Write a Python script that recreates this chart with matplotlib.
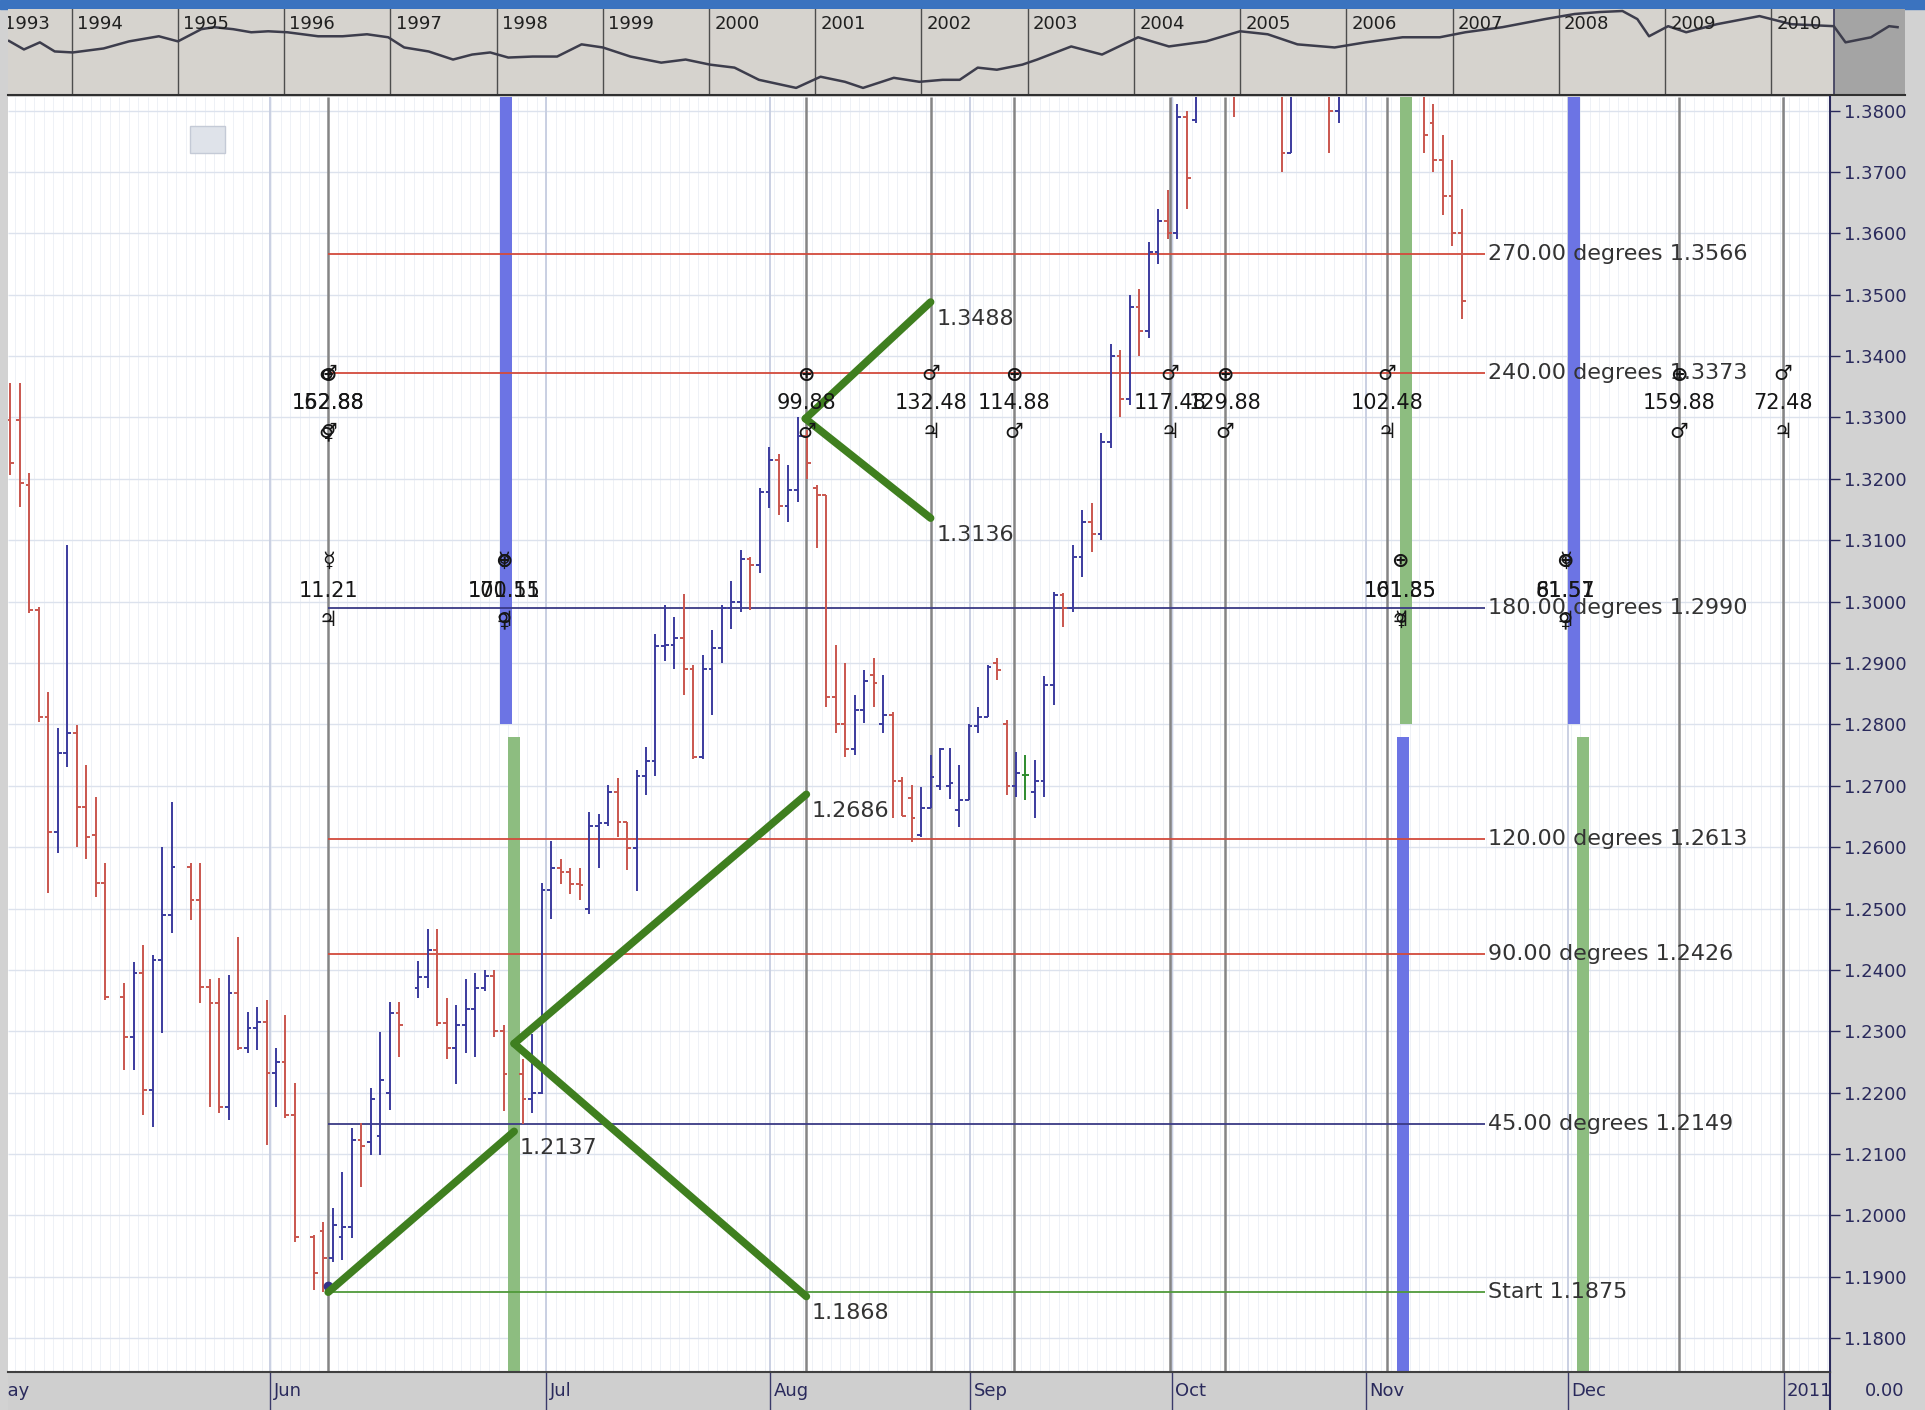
import numpy as np
import matplotlib.pyplot as plt
from matplotlib.collections import LineCollection
from matplotlib.patches import Rectangle
import matplotlib.transforms as mtransforms

plt.rcParams['font.family'] = ['DejaVu Sans']

# daily EUR/USD bars, one entry per chart slot (None = empty slot)
opens = [
    1.3296, 1.3296, 1.3190, 1.2986, 1.2812, 1.2625, 1.2753, 1.2786, 1.2666, 1.2620,
    1.2541, None, 1.2356, 1.2290, 1.2395, 1.2204, 1.2416, 1.2490, None, 1.2568,
    1.2514, 1.2372, 1.2346, 1.2176, 1.2362, 1.2273, 1.2306, 1.2315, 1.2232, 1.2250,
    1.2163, None, 1.1965, 1.1975, 1.1930, 1.1965, 1.1981, 1.2123, 1.2120, 1.2130,
    1.2200, 1.2330, None, 1.2370, 1.2389, 1.2432, 1.2314, 1.2273, 1.2311, 1.2336,
    1.2370, 1.2390, 1.2300, None, 1.2230, 1.2190, 1.2200, 1.2531, 1.2566, 1.2560,
    1.2540, 1.2500, 1.2635, 1.2640, 1.2690, 1.2641, 1.2598, 1.2716, 1.2741, 1.2928,
    1.2930, 1.2940, 1.2890, 1.2747, 1.2891, 1.2925, 1.2990, 1.3000, 1.3070, 1.3060,
    1.3179, 1.3230, 1.3155, 1.3182, 1.3270, 1.3185, 1.3174, 1.2845, 1.2800, 1.2760,
    1.2823, 1.2880, 1.2800, 1.2815, 1.2707, 1.2680, 1.2620, 1.2664, 1.2700, 1.2700,
    1.2660, 1.2677, 1.2797, 1.2812, 1.2900, 1.2800, 1.2700, 1.2718, 1.2690, 1.2707,
    1.2864, 1.3011, 1.2990, 1.3073, 1.3130, 1.3110, 1.3260, 1.3400, 1.3330, 1.3480,
    1.3440, 1.3570, 1.3620, 1.3600, 1.3790, 1.3785, 1.3900, 1.3960, 1.4000, 1.3950,
    1.3860, 1.3980, 1.4100, 1.4020, 1.3920, 1.3730, 1.3940, 1.3960, 1.3930, 1.3880,
    1.3800, 1.3920, 1.3950, 1.4020, 1.4120, 1.4230, 1.4130, 1.4000, 1.3920, 1.3850,
    1.3780, 1.3720, 1.3660, 1.3600]
highs = [
    1.3356, 1.3356, 1.3209, 1.2991, 1.2853, 1.2794, 1.3092, 1.2799, 1.2734, 1.2682,
    1.2574, None, 1.2378, 1.2413, 1.2440, 1.2424, 1.2600, 1.2673, None, 1.2574,
    1.2574, 1.2385, 1.2387, 1.2392, 1.2454, 1.2331, 1.2340, 1.2351, 1.2273, 1.2327,
    1.2216, None, 1.1968, 1.1989, 1.2012, 1.2071, 1.2143, 1.2151, 1.2208, 1.2299,
    1.2348, 1.2348, None, 1.2414, 1.2467, 1.2467, 1.2354, 1.2343, 1.2386, 1.2395,
    1.2400, 1.2400, 1.2310, None, 1.2255, 1.2295, 1.2541, 1.2610, 1.2580, 1.2566,
    1.2566, 1.2657, 1.2654, 1.2701, 1.2713, 1.2641, 1.2726, 1.2763, 1.2947, 1.2994,
    1.2975, 1.3012, 1.2897, 1.2913, 1.2954, 1.2994, 1.3034, 1.3084, 1.3073, 1.3185,
    1.3252, 1.3240, 1.3222, 1.3300, 1.3279, 1.3190, 1.3174, 1.2929, 1.2900, 1.2848,
    1.2888, 1.2908, 1.2880, 1.2820, 1.2715, 1.2701, 1.2698, 1.2750, 1.2761, 1.2761,
    1.2734, 1.2800, 1.2829, 1.2897, 1.2908, 1.2807, 1.2755, 1.2750, 1.2742, 1.2878,
    1.3016, 1.3014, 1.3092, 1.3150, 1.3160, 1.3275, 1.3420, 1.3410, 1.3500, 1.3510,
    1.3585, 1.3640, 1.3670, 1.3810, 1.3800, 1.3920, 1.3990, 1.4060, 1.4030, 1.3980,
    1.4000, 1.4120, 1.4160, 1.4040, 1.3950, 1.3960, 1.3990, 1.4000, 1.3960, 1.3900,
    1.3950, 1.3990, 1.4050, 1.4140, 1.4250, 1.4280, 1.4140, 1.4030, 1.3960, 1.3880,
    1.3810, 1.3760, 1.3720, 1.3640]
lows = [
    1.3206, 1.3154, 1.2981, 1.2804, 1.2525, 1.2590, 1.2730, 1.2600, 1.2580, 1.2518,
    1.2351, None, 1.2237, 1.2237, 1.2163, 1.2144, 1.2297, 1.2460, None, 1.2481,
    1.2346, 1.2176, 1.2167, 1.2156, 1.2270, 1.2264, 1.2270, 1.2115, 1.2176, 1.2158,
    1.1957, None, 1.1879, 1.1876, 1.1924, 1.1927, 1.1963, 1.2046, 1.2098, 1.2098,
    1.2171, 1.2258, None, 1.2354, 1.2370, 1.2308, 1.2255, 1.2214, 1.2265, 1.2258,
    1.2365, 1.2290, 1.2170, None, 1.2149, 1.2167, 1.2198, 1.2483, 1.2540, 1.2523,
    1.2514, 1.2491, 1.2566, 1.2635, 1.2616, 1.2563, 1.2529, 1.2685, 1.2716, 1.2903,
    1.2891, 1.2848, 1.2744, 1.2744, 1.2816, 1.2900, 1.2956, 1.2983, 1.2986, 1.3046,
    1.3152, 1.3141, 1.3130, 1.3163, 1.3200, 1.3087, 1.2829, 1.2786, 1.2747, 1.2750,
    1.2802, 1.2829, 1.2786, 1.2647, 1.2650, 1.2609, 1.2617, 1.2664, 1.2693, 1.2678,
    1.2633, 1.2677, 1.2786, 1.2812, 1.2872, 1.2685, 1.2682, 1.2677, 1.2647, 1.2682,
    1.2831, 1.2959, 1.2983, 1.3040, 1.3080, 1.3100, 1.3250, 1.3300, 1.3320, 1.3400,
    1.3430, 1.3550, 1.3590, 1.3590, 1.3640, 1.3780, 1.3850, 1.3930, 1.3900, 1.3790,
    1.3840, 1.3960, 1.4000, 1.3880, 1.3700, 1.3730, 1.3880, 1.3900, 1.3850, 1.3730,
    1.3780, 1.3880, 1.3900, 1.4000, 1.4100, 1.4100, 1.3960, 1.3890, 1.3830, 1.3730,
    1.3700, 1.3630, 1.3580, 1.3460]
closes = [
    1.3226, 1.3193, 1.2986, 1.2812, 1.2625, 1.2753, 1.2786, 1.2666, 1.2617, 1.2541,
    1.2356, None, 1.2290, 1.2395, 1.2204, 1.2416, 1.2490, 1.2568, None, 1.2514,
    1.2372, 1.2346, 1.2176, 1.2362, 1.2273, 1.2306, 1.2315, 1.2232, 1.2250, 1.2163,
    1.1965, None, 1.1906, 1.1930, 1.1985, 1.1981, 1.2123, 1.2113, 1.2190, 1.2221,
    1.2330, 1.2311, None, 1.2389, 1.2432, 1.2314, 1.2273, 1.2311, 1.2336, 1.2370,
    1.2390, 1.2300, 1.2230, None, 1.2190, 1.2200, 1.2531, 1.2566, 1.2560, 1.2540,
    1.2538, 1.2635, 1.2640, 1.2690, 1.2641, 1.2598, 1.2716, 1.2741, 1.2928, 1.2930,
    1.2940, 1.2890, 1.2747, 1.2891, 1.2925, 1.2990, 1.3000, 1.3070, 1.3060, 1.3179,
    1.3230, 1.3155, 1.3182, 1.3270, 1.3226, 1.3174, 1.2845, 1.2800, 1.2760, 1.2823,
    1.2870, 1.2867, 1.2815, 1.2707, 1.2650, 1.2647, 1.2664, 1.2715, 1.2760, 1.2705,
    1.2677, 1.2797, 1.2812, 1.2894, 1.2888, 1.2700, 1.2720, 1.2718, 1.2707, 1.2864,
    1.3011, 1.2990, 1.3073, 1.3130, 1.3110, 1.3260, 1.3400, 1.3330, 1.3480, 1.3440,
    1.3570, 1.3620, 1.3600, 1.3790, 1.3690, 1.3900, 1.3960, 1.4000, 1.3950, 1.3850,
    1.3980, 1.4100, 1.4020, 1.3900, 1.3730, 1.3940, 1.3960, 1.3930, 1.3880, 1.3800,
    1.3920, 1.3950, 1.4020, 1.4120, 1.4230, 1.4130, 1.4000, 1.3920, 1.3850, 1.3760,
    1.3720, 1.3660, 1.3600, 1.3490]

price_ticks = [round(1.18 + 0.01 * k, 2) for k in range(21)]

# month starts (chart slot) for the bottom strip
month_names = ['May', 'Jun', 'Jul', 'Aug', 'Sep', 'Oct', 'Nov', 'Dec', '2011']
month_pos = [-2.3, 27.4, 56.5, 80.1, 101.2, 122.4, 142.9, 164.2, 186.9]

# astro time lines and coloured turn bands (chart slots)
time_lines = [33.5, 83.9, 97.0, 105.8, 122.2, 128.0, 145.1, 175.9, 186.8]
band_upper = [52.2, 147.1, 164.8]
band_upper_col = ['blue', 'green', 'blue']
band_lower = [53.1, 146.8, 165.8]
band_lower_col = ['green', 'blue', 'green']

# angle levels from the June low
level_names = ['270.00 degrees', '240.00 degrees', '180.00 degrees', '120.00 degrees',
               '90.00 degrees', '45.00 degrees', 'Start']
level_prices = [1.3566, 1.3373, 1.2990, 1.2613, 1.2426, 1.2149, 1.1875]
level_kind = ['red', 'red', 'navy', 'red', 'red', 'navy', 'green']

# hand drawn swing lines
swing_x0 = [33.5, 53.1, 53.1, 83.8, 83.8]
swing_y0 = [1.1875, 1.2280, 1.2280, 1.3298, 1.3298]
swing_x1 = [53.1, 83.9, 83.9, 97.0, 97.0]
swing_y1 = [1.2137, 1.2686, 1.1868, 1.3488, 1.3136]

# planet markers, '|' = glyphs printed on top of each other
row_a_x = [33.5, 83.9, 97.0, 105.8, 122.2, 128.0, 145.1, 175.9, 186.8]
row_a_top = ['⊕|♂', '⊕', '♂', '⊕', '♂', '⊕', '♂', '⊕', '♂']
row_a_num = ['162.88|152.88', '99.88', '132.48', '114.88', '117.48', '129.88', '102.48', '159.88', '72.48']
row_a_bot = ['♂|♀', '♂', '♃', '♂', '♃', '♂', '♃', '♂', '♃']
row_b_x = [33.5, 52.0, 146.5, 163.9]
row_b_top = ['☿', '⊕|☿', '⊕', '⊕|☿']
row_b_num = ['11.21', '170.15|101.51', '161.85|101.35', '61.51|81.57']
row_b_bot = ['♃', '♀|♃', '☿|♃', '♀|♃']

# long history strip at the top (year, price)
ov_years = [1993.41, 1993.55, 1993.70, 1993.84, 1994.01, 1994.30, 1994.54, 1994.82, 1995.00,
            1995.22, 1995.34, 1995.52, 1995.69, 1995.85, 1996.03, 1996.32, 1996.55, 1996.78,
            1996.98, 1997.13, 1997.36, 1997.59, 1997.77, 1997.94, 1998.11, 1998.34, 1998.57,
            1998.80, 1999.00, 1999.26, 1999.55, 1999.78, 2000.01, 2000.24, 2000.47, 2000.82,
            2001.05, 2001.28, 2001.45, 2001.74, 2001.98, 2002.20, 2002.36, 2002.53, 2002.71,
            2002.95, 2003.09, 2003.41, 2003.70, 2004.04, 2004.33, 2004.68, 2005.00, 2005.26,
            2005.54, 2005.89, 2006.18, 2006.53, 2006.88, 2007.12, 2007.47, 2007.87, 2008.15,
            2008.39, 2008.60, 2008.74, 2008.85, 2009.03, 2009.20, 2009.49, 2009.89, 2010.19,
            2010.59, 2010.70, 2010.94, 2011.11, 2011.19]
ov_vals = [1.30, 1.215, 1.286, 1.195, 1.185, 1.225, 1.296, 1.347, 1.296,
           1.418, 1.438, 1.418, 1.387, 1.397, 1.387, 1.347, 1.347, 1.367,
           1.337, 1.235, 1.195, 1.114, 1.164, 1.185, 1.134, 1.144, 1.144,
           1.266, 1.235, 1.144, 1.083, 1.114, 1.063, 1.033, 0.911, 0.830,
           0.942, 0.891, 0.830, 0.931, 0.891, 0.911, 0.911, 1.033, 1.012,
           1.063, 1.114, 1.245, 1.164, 1.337, 1.245, 1.296, 1.397, 1.367,
           1.266, 1.235, 1.286, 1.337, 1.337, 1.387, 1.438, 1.519, 1.570,
           1.590, 1.600, 1.519, 1.347, 1.448, 1.387, 1.468, 1.549, 1.468,
           1.448, 1.286, 1.337, 1.448, 1.438]

W, H = 1925, 1410
fig = plt.figure(figsize=(W / 100, H / 100), dpi=100, facecolor='#d2d2d2')
axis_col = '#2a2a5c'

# window title strip
fig.add_artist(Rectangle((0, 1 - 9 / H), 1, 9 / H, transform=fig.transFigure,
                         color='#3b73bf', zorder=0))

# ---- overview panel ----
ov = fig.add_axes([8 / W, 1 - 95 / H, (1905 - 8) / W, 86 / H])
ov.set_facecolor('#d6d3ce')
ov.plot(ov_years, ov_vals, color='#3d3d4c', lw=1.8, zorder=3)
ov.set_xlim(1993.40, 2011.26)
ov.set_ylim(0.759, 1.62)
ov.axvspan(2010.59, 2011.26, color='#a4a4a4', zorder=1)
ov.axvline(2010.59, color='#3a3a5a', lw=1.2, zorder=2)
for yr in range(1994, 2011):
    ov.axvline(yr, color='#4d4d4d', lw=1, zorder=2)
trans_ov = mtransforms.blended_transform_factory(ov.transData, ov.transAxes)
for yr in range(1993, 2011):
    lx = yr + 0.05 if yr > 1993 else 1993.36
    ov.text(lx, 0.83, str(yr), transform=trans_ov, fontsize=13, color='#202020',
            ha='left', va='center', clip_on=True, zorder=4)
ov.set_xticks([])
ov.set_yticks([])
for s in ['top', 'left', 'right']:
    ov.spines[s].set_visible(False)
ov.spines['bottom'].set_color('#303030')
ov.spines['bottom'].set_linewidth(1.5)

# ---- main price panel ----
ax = fig.add_axes([8 / W, 1 - 1372 / H, 1822 / W, 1275 / H])
ax.set_facecolor('white')
xmin, xmax = -0.25, 191.8
ymin, ymax = 1.1745, 1.3822
ax.set_xlim(xmin, xmax)
ax.set_ylim(ymin, ymax)

# faint grid
ax.vlines(np.arange(-0.5, 192, 1), ymin, ymax, color='#eef1f6', lw=0.7, zorder=0.5)
ax.hlines(price_ticks, xmin, xmax, color='#dce2ed', lw=1, zorder=0.6)
ax.vlines(month_pos, ymin, ymax, color='#c6cde0', lw=1.3, zorder=0.7)

# time lines and bands
ax.vlines(time_lines, ymin, ymax, color='#858585', lw=1.8, zorder=2)
band_colors = {'blue': '#6c74e4', 'green': '#8dbd80'}
ax.bar(band_upper, ymax - 1.2800, width=1.25, bottom=1.2800,
       color=[band_colors[c] for c in band_upper_col], zorder=2.2)
ax.bar(band_lower, 1.2780 - ymin, width=1.25, bottom=ymin,
       color=[band_colors[c] for c in band_lower_col], zorder=2.2)

# degree levels
level_colors = {'red': '#d24a3c', 'navy': '#3a3a85', 'green': '#4f9a3a'}
ax.hlines(level_prices, 33.5, 155.4, colors=[level_colors[k] for k in level_kind],
          lw=1.3, zorder=2.5)
for name, p in zip(level_names, level_prices):
    ax.text(155.7, p, f'{name} {p:.4f}', ha='left', va='center', fontsize=16,
            color='#333333', zorder=6)

# OHLC bars
segs, cols = [], []
for i, (o, h, l, c) in enumerate(zip(opens, highs, lows, closes)):
    if o is None:
        continue
    if c > o:
        col = '#3b3b9e'
    elif c < o:
        col = '#c9564e'
    else:
        col = '#2e8b2e'
    segs += [[(i, l), (i, h)], [(i - 0.4, o), (i, o)], [(i, c), (i + 0.4, c)]]
    cols += [col] * 3
ax.add_collection(LineCollection(segs, colors=cols, linewidths=1.4, zorder=3))

ax.plot(33.5, 1.1885, marker='o', ms=6, color='#34348a', zorder=4)

# swing lines
for x0, y0, x1, y1 in zip(swing_x0, swing_y0, swing_x1, swing_y1):
    ax.plot([x0, x1], [y0, y1], color='#3f7f1f', lw=5.5, solid_capstyle='round', zorder=5)
    ax.text(x1 + 0.6, y1 - 0.0027, f'{y1:.4f}', ha='left', va='center', fontsize=16,
            color='#333333', zorder=6)


def stack(x, y, txt, size, weight):
    for part in txt.split('|'):
        ax.text(x, y, part, ha='center', va='center', fontsize=size, fontweight=weight,
                color='#161616', zorder=6)


for x, t, n, b in zip(row_a_x, row_a_top, row_a_num, row_a_bot):
    stack(x, 1.3370, t, 15, 'bold')
    stack(x, 1.3324, n, 15, 'normal')
    stack(x, 1.3276, b, 15, 'bold')
for x, t, n, b in zip(row_b_x, row_b_top, row_b_num, row_b_bot):
    stack(x, 1.3066, t, 15, 'bold')
    stack(x, 1.3018, n, 15, 'normal')
    stack(x, 1.2970, b, 15, 'bold')

# little toolbar button
ax.add_patch(Rectangle((0.0999, 0.956), 0.019, 0.021, transform=ax.transAxes,
                       facecolor='#dfe3ea', edgecolor='#c4cad6', zorder=4))

# price scale on the right
ax.yaxis.tick_right()
ax.set_yticks(price_ticks)
ax.set_yticklabels([f'{p:.4f}' for p in price_ticks])
ax.tick_params(axis='y', direction='out', length=7, width=1, color=axis_col,
               labelsize=13, labelcolor=axis_col, pad=3)
ax.set_xticks([])
for s in ['top', 'left']:
    ax.spines[s].set_visible(False)
ax.spines['right'].set_color(axis_col)
ax.spines['right'].set_linewidth(1.5)
ax.spines['bottom'].set_color('#404040')
ax.spines['bottom'].set_linewidth(1.5)

# ---- month strip ----
axb = fig.add_axes([8 / W, 0, 1822 / W, 38 / H])
axb.set_facecolor('#cfcfcf')
axb.set_xlim(xmin, xmax)
axb.set_ylim(0, 1)
axb.vlines(month_pos, 0, 1, color='#3a3a6a', lw=1)
for name, pos in zip(month_names, month_pos):
    axb.text(pos + 0.35, 0.5, name, ha='left', va='center', fontsize=13,
             color=axis_col, clip_on=True)
axb.set_xticks([])
axb.set_yticks([])
for s in ['bottom', 'left']:
    axb.spines[s].set_visible(False)
axb.spines['right'].set_color(axis_col)
axb.spines['right'].set_linewidth(1.5)
axb.spines['top'].set_color('#404040')

fig.text(1885 / W, 1 - 1391 / H, '0.00', ha='center', va='center', fontsize=13, color=axis_col)

fig.savefig('out.png', dpi=100, facecolor=fig.get_facecolor())
